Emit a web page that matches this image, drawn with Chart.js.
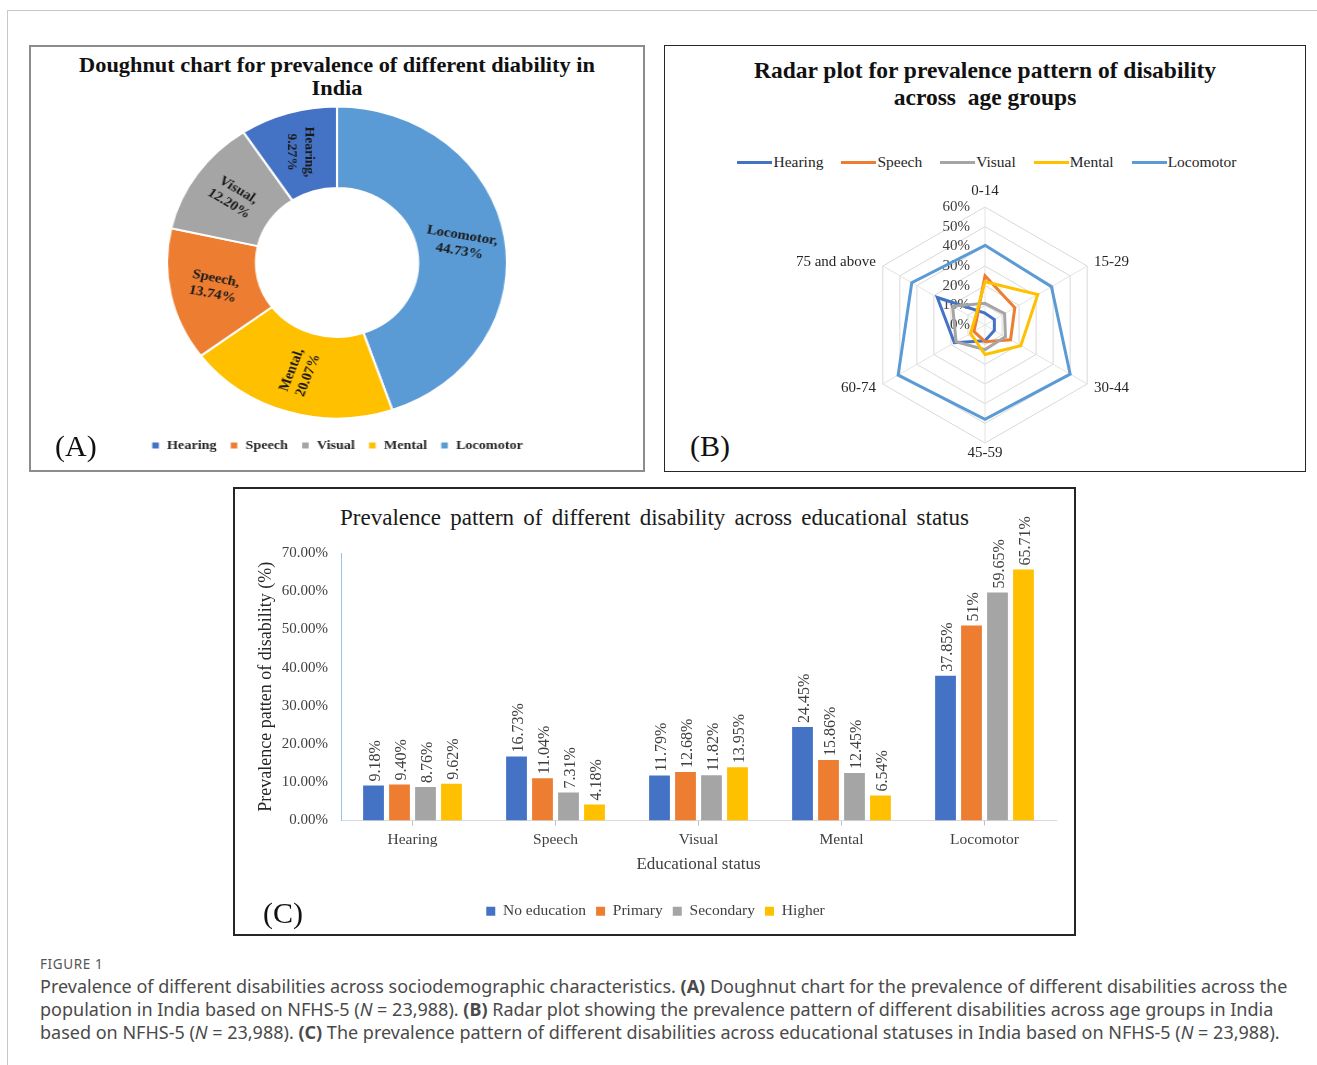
<!DOCTYPE html>
<html>
<head>
<meta charset="utf-8">
<title>Prevalence of different disabilities</title>
<script src="https://cdn.jsdelivr.net/npm/chart.js@4.4.1/dist/chart.umd.min.js"></script>
<style>
  html, body { margin: 0; padding: 0; background: #fff; }
  body { width: 1317px; height: 1065px; position: relative; overflow: hidden;
         font-family: "Liberation Serif", "Times New Roman", serif; color: #111; }
  .frame { position: absolute; left: 7px; top: 10px; right: 0; bottom: 0;
           border-top: 1px solid #c8c8c8; border-left: 1px solid #c8c8c8; }
  .panel { position: absolute; box-sizing: border-box; }
  #panelA { left: 29px; top: 45px; width: 616px; height: 427px; border: 2px solid #8c8c8c; }
  #panelB { left: 664px; top: 45px; width: 642px; height: 427px; border: 1.5px solid #262626; }
  #panelC { left: 233px; top: 487px; width: 843px; height: 449px; border: 2px solid #262626; }
  .title { position: absolute; text-align: center; white-space: nowrap; }
  #titleA { left: 29px; width: 616px; top: 54px; font-size: 20.5px; line-height: 23px; font-weight: bold;
            transform: scaleX(1.09); transform-origin: 308px 0; }
  #titleB { left: 664px; width: 642px; top: 57px; font-size: 23.5px; line-height: 27px; font-weight: bold; }
  #titleC { left: 233px; width: 843px; top: 504px; font-size: 23px; line-height: 28px; word-spacing: 3.5px; color: #1a1a1a; }
  .letter { position: absolute; font-size: 30px; line-height: 34px; }
  .chartbox { position: absolute; }
  #boxA { left: 57px; top: 98px; width: 560px; height: 364px; transform: scaleX(1.09); transform-origin: 50% 50%; }
  #boxB { left: 785px; top: 175px; width: 400px; height: 300px; }
  #boxC { left: 235px; top: 495px; width: 839px; height: 434px; }
  #legendB { position: absolute; left: 664px; width: 642px; top: 152px; height: 20px;
             display: flex; justify-content: center; align-items: center; gap: 18px;
             font-size: 15.5px; color: #262626; padding-left: 4px; box-sizing: border-box; }
  #legendB .item { display: flex; align-items: center; }
  #legendB .swatch { display: inline-block; width: 35px; height: 3px; margin-right: 1px; }
  #figLabel { position: absolute; left: 40px; top: 955px; font-family: "Noto Sans", sans-serif;
              font-size: 13.5px; letter-spacing: 0.6px; color: #555; }
  #caption { position: absolute; left: 40px; top: 975px; font-family: "Noto Sans", sans-serif;
             font-size: 18px; line-height: 23px; color: #4a4a4a; white-space: nowrap; }
</style>
</head>
<body>
<div class="frame"></div>

<div class="panel" id="panelA"></div>
<div class="panel" id="panelB"></div>
<div class="panel" id="panelC"></div>

<div class="title" id="titleA">Doughnut chart for prevalence of different diability in<br>India</div>
<div class="title" id="titleB">Radar plot for prevalence pattern of disability<br>across&nbsp; age groups</div>
<div class="title" id="titleC">Prevalence pattern of different disability across educational status</div>

<div class="chartbox" id="boxA"><canvas id="chartA"></canvas></div>
<div id="legendB"></div>
<div class="chartbox" id="boxB"><canvas id="chartB"></canvas></div>
<div class="chartbox" id="boxC"><canvas id="chartC"></canvas></div>

<div class="letter" style="left:55px;top:429px;">(A)</div>
<div class="letter" style="left:690px;top:429px;">(B)</div>
<div class="letter" style="left:263px;top:896px;">(C)</div>

<div id="figLabel">FIGURE 1</div>
<div id="caption">
Prevalence of different disabilities across sociodemographic characteristics. <b>(A)</b> Doughnut chart for the prevalence of different disabilities across the<br>
population in India based on NFHS-5 (<i>N</i> = 23,988). <b>(B)</b> Radar plot showing the prevalence pattern of different disabilities across age groups in India<br>
based on NFHS-5 (<i>N</i> = 23,988). <b>(C)</b> The prevalence pattern of different disabilities across educational statuses in India based on NFHS-5 (<i>N</i> = 23,988).
</div>

<script>
// ---------- data ----------
// (A) share of each disability type, in slice order clockwise from 12 o'clock
const disabilityTypes = ['Locomotor', 'Mental', 'Speech', 'Visual', 'Hearing'];
const disabilityShare = [44.73, 20.07, 13.74, 12.20, 9.27];
const legendOrderA = ['Hearing', 'Speech', 'Visual', 'Mental', 'Locomotor'];

// (B) prevalence (%) of each disability by age group
const ageGroups = ['0-14', '15-29', '30-44', '45-59', '60-74', '75 and above'];
const hearingByAge   = [6, 5.5, 5.5, 8, 18, 28];
const speechByAge    = [25, 17.5, 15, 8.5, 6.5, 5];
const visualByAge    = [11, 11.5, 12, 12.5, 17, 19];
const mentalByAge    = [22, 31, 21, 15, 8.5, 6];
const locomotorByAge = [40.5, 39, 50, 48, 51, 43];
const radarTicks = [0, 10, 20, 30, 40, 50, 60];

// (C) prevalence (%) of each disability by educational status
const eduCategories = ['Hearing', 'Speech', 'Visual', 'Mental', 'Locomotor'];
const noEducation = [9.18, 16.73, 11.79, 24.45, 37.85];
const primary     = [9.40, 11.04, 12.68, 15.86, 51];
const secondary   = [8.76, 7.31, 11.82, 12.45, 59.65];
const higher      = [9.62, 4.18, 13.95, 6.54, 65.71];

// ---------- styling ----------
const SERIF = '"Liberation Serif", "Times New Roman", serif';
const COLORS = { Hearing: '#4472C4', Speech: '#ED7D31', Visual: '#A5A5A5', Mental: '#FFC000', Locomotor: '#5B9BD5' };
const EDU_COLORS = ['#4472C4', '#ED7D31', '#A5A5A5', '#FFC000'];

Chart.defaults.animation = false;
Chart.defaults.devicePixelRatio = 1;
Chart.defaults.font.family = SERIF;
Chart.defaults.plugins.tooltip.enabled = false;

// ---------- (A) doughnut ----------
const sliceLabelAngles = [10, -70, 12, 33, 90]; // text rotation per slice, degrees

const doughnutLabels = {
  id: 'doughnutLabels',
  afterDatasetsDraw(chart) {
    const ctx = chart.ctx;
    const ds = chart.data.datasets[0];
    chart.getDatasetMeta(0).data.forEach((arc, i) => {
      const p = arc.tooltipPosition();
      ctx.save();
      ctx.translate(p.x, p.y);
      ctx.rotate(sliceLabelAngles[i] * Math.PI / 180);
      ctx.font = 'bold 13.5px ' + SERIF;
      ctx.fillStyle = '#1a1a1a';
      ctx.textAlign = 'center';
      ctx.textBaseline = 'middle';
      ctx.fillText(chart.data.labels[i] + ',', 0, -8);
      ctx.fillText(ds.data[i].toFixed(2) + '%', 0, 8);
      ctx.restore();
    });
  }
};

new Chart(document.getElementById('chartA'), {
  type: 'doughnut',
  data: {
    labels: disabilityTypes,
    datasets: [{
      data: disabilityShare,
      backgroundColor: disabilityTypes.map(t => COLORS[t]),
      borderColor: '#ffffff',
      borderWidth: 2
    }]
  },
  options: {
    responsive: true,
    maintainAspectRatio: false,
    radius: 156,
    cutout: 78,
    layout: { padding: 0 },
    plugins: {
      legend: {
        position: 'bottom',
        labels: {
          font: { family: SERIF, size: 13, weight: 'bold' },
          color: '#262626',
          boxWidth: 8,
          boxHeight: 8,
          padding: 12,
          sort: (a, b) => legendOrderA.indexOf(a.text) - legendOrderA.indexOf(b.text)
        }
      }
    }
  },
  plugins: [doughnutLabels]
});

// ---------- (B) radar ----------
const radarSeries = [
  { label: 'Hearing', data: hearingByAge },
  { label: 'Speech', data: speechByAge },
  { label: 'Visual', data: visualByAge },
  { label: 'Mental', data: mentalByAge },
  { label: 'Locomotor', data: locomotorByAge }
];

// line-style legend above the radar
const legendB = document.getElementById('legendB');
radarSeries.forEach(s => {
  const item = document.createElement('span');
  item.className = 'item';
  const sw = document.createElement('span');
  sw.className = 'swatch';
  sw.style.background = COLORS[s.label];
  item.appendChild(sw);
  item.appendChild(document.createTextNode(s.label));
  legendB.appendChild(item);
});

const radarText = {
  id: 'radarText',
  beforeDatasetsDraw(chart) {
    const s = chart.scales.r;
    const ctx = chart.ctx;
    ctx.save();
    ctx.font = '15px ' + SERIF;
    ctx.fillStyle = '#404040';
    ctx.textAlign = 'right';
    ctx.textBaseline = 'middle';
    radarTicks.forEach(v => {
      ctx.fillText(v + '%', s.xCenter - 15, s.yCenter - s.getDistanceFromCenterForValue(v));
    });
    ctx.restore();
  },
  afterDraw(chart) {
    const s = chart.scales.r;
    const ctx = chart.ctx;
    ctx.save();
    ctx.font = '15px ' + SERIF;
    ctx.fillStyle = '#262626';
    chart.data.labels.forEach((lab, i) => {
      const a = s.getPointPosition(i, 1).angle;
      const cos = Math.cos(a), sin = Math.sin(a);
      const vertical = Math.abs(cos) < 0.1;
      const p = s.getPointPosition(i, s.drawingArea + (vertical && sin > 0 ? 3 : 8));
      ctx.textAlign = vertical ? 'center' : (cos > 0 ? 'left' : 'right');
      ctx.textBaseline = vertical ? (sin < 0 ? 'bottom' : 'top') : 'middle';
      ctx.fillText(lab, p.x, p.y);
    });
    ctx.restore();
  }
};

new Chart(document.getElementById('chartB'), {
  type: 'radar',
  data: {
    labels: ageGroups,
    datasets: radarSeries.map((s, i) => ({
      label: s.label,
      data: s.data,
      borderColor: COLORS[s.label],
      backgroundColor: 'transparent',
      borderWidth: 3,
      fill: false,
      pointRadius: 0,
      order: radarSeries.length - i
    }))
  },
  options: {
    responsive: true,
    maintainAspectRatio: false,
    layout: { padding: { left: 82, right: 82, top: 32, bottom: 32 } },
    plugins: { legend: { display: false } },
    scales: {
      r: {
        min: 0,
        max: 60,
        ticks: { stepSize: 10, display: false },
        grid: { color: '#d9d9d9', lineWidth: 1 },
        angleLines: { color: '#e3e3e3', lineWidth: 1 },
        pointLabels: { display: false }
      }
    }
  },
  plugins: [radarText]
});

// ---------- (C) grouped bars ----------
const fmtPct = v => (Number.isInteger(v) ? String(v) : v.toFixed(2)) + '%';

const barValueLabels = {
  id: 'barValueLabels',
  afterDatasetsDraw(chart) {
    const ctx = chart.ctx;
    ctx.save();
    ctx.font = '16px ' + SERIF;
    ctx.fillStyle = '#404040';
    chart.data.datasets.forEach((ds, di) => {
      chart.getDatasetMeta(di).data.forEach((bar, i) => {
        ctx.save();
        ctx.translate(bar.x + 2, bar.y - 4);
        ctx.rotate(-Math.PI / 2);
        ctx.textAlign = 'left';
        ctx.textBaseline = 'middle';
        ctx.fillText(fmtPct(ds.data[i]), 0, 0);
        ctx.restore();
      });
    });
    ctx.restore();
  }
};

const eduSeries = [
  { label: 'No education', data: noEducation },
  { label: 'Primary', data: primary },
  { label: 'Secondary', data: secondary },
  { label: 'Higher', data: higher }
];

new Chart(document.getElementById('chartC'), {
  type: 'bar',
  data: {
    labels: eduCategories,
    datasets: eduSeries.map((s, i) => ({
      label: s.label,
      data: s.data,
      backgroundColor: EDU_COLORS[i],
      categoryPercentage: 0.727,
      barPercentage: 0.8
    }))
  },
  options: {
    responsive: true,
    maintainAspectRatio: false,
    layout: { padding: { left: 20, right: 18, top: 58, bottom: 0 } },
    plugins: {
      legend: {
        position: 'bottom',
        labels: {
          font: { family: SERIF, size: 15.5 },
          color: '#404040',
          boxWidth: 9,
          boxHeight: 9,
          padding: 10
        }
      }
    },
    scales: {
      x: {
        grid: { display: true, drawOnChartArea: false, drawTicks: true, tickLength: 5, color: '#bfbfbf', offset: false },
        border: { display: true, color: '#d9d9d9' },
        ticks: { font: { family: SERIF, size: 15.5 }, color: '#404040', padding: 5 },
        title: { display: true, text: 'Educational status', font: { family: SERIF, size: 17 }, color: '#404040',
                 padding: { top: 0, bottom: 19 } },
        afterFit(scale) { scale.height = 73; }
      },
      y: {
        min: 0,
        max: 70,
        ticks: { stepSize: 10, callback: v => v.toFixed(2) + '%', font: { family: SERIF, size: 15 }, color: '#404040', padding: 13 },
        grid: { display: false, drawTicks: false },
        border: { display: true, color: '#9dc3e6', dash: [2, 2] },
        title: { display: true, text: 'Prevalence patten of disability (%)', font: { family: SERIF, size: 18 }, color: '#262626',
                 padding: { top: 0, bottom: 0 } },
        afterFit(scale) { scale.width = 86; }
      }
    }
  },
  plugins: [barValueLabels]
});
</script>
</body>
</html>
